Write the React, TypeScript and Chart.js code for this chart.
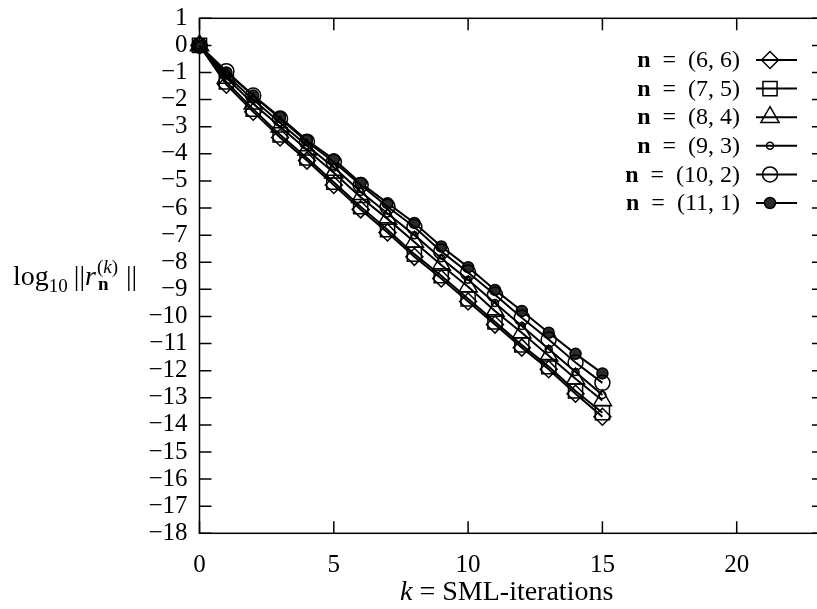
import React, { useEffect, useRef } from 'react';
import { Chart, registerables } from 'chart.js';
import { drawPoint } from 'chart.js/helpers';

Chart.register(...registerables);

// ---- data ----
const iterations = [0, 1, 2, 3, 4, 5, 6, 7, 8, 9, 10, 11, 12, 13, 14, 15];
const seriesLabels = ['n = (6, 6)', 'n = (7, 5)', 'n = (8, 4)', 'n = (9, 3)', 'n = (10, 2)', 'n = (11, 1)'];
const r66 = [0, -1.45, -2.45, -3.4, -4.25, -5.15, -6.05, -6.9, -7.8, -8.6, -9.45, -10.3, -11.15, -11.95, -12.85, -13.7];
const r75 = [0, -1.35, -2.35, -3.3, -4.15, -5.05, -5.95, -6.8, -7.7, -8.5, -9.35, -10.2, -11.05, -11.85, -12.75, -13.55];
const r84 = [0, -1.2, -2.15, -3.0, -3.85, -4.7, -5.6, -6.4, -7.25, -8.1, -8.9, -9.8, -10.6, -11.45, -12.3, -13.1];
const r93 = [0, -1.1, -2.0, -2.85, -3.7, -4.5, -5.4, -6.2, -7.0, -7.85, -8.65, -9.5, -10.35, -11.2, -12.05, -12.9];
const r102 = [0, -0.95, -1.85, -2.7, -3.55, -4.3, -5.15, -5.95, -6.7, -7.6, -8.38, -9.2, -10.05, -10.85, -11.7, -12.45];
const r111 = [0, -1.0, -1.85, -2.65, -3.5, -4.2, -5.08, -5.82, -6.55, -7.42, -8.18, -9.02, -9.8, -10.6, -11.38, -12.1];
const xTickStep = 5;
const xMin = 0;
const xMax = 23.25;
const yTickStep = 1;
const yMin = -18;
const yMax = 1;

const SERIF = '"Liberation Serif", "DejaVu Serif", serif';

const styles = [
  { pointStyle: 'rectRot', radius: 8.5, fill: 'rgba(0,0,0,0)' },
  { pointStyle: 'rect', radius: 10, fill: 'rgba(0,0,0,0)' },
  { pointStyle: 'triangle', radius: 10.5, fill: 'rgba(0,0,0,0)' },
  { pointStyle: 'circle', radius: 3.5, fill: 'rgba(0,0,0,0)' },
  { pointStyle: 'circle', radius: 7.5, fill: 'rgba(0,0,0,0)' },
  { pointStyle: 'circle', radius: 5.5, fill: '#2a2a2a' },
];

const frameTicks = {
  id: 'frameTicks',
  beforeDatasetsDraw(chart: any) {
    const { ctx, chartArea: a, scales } = chart;
    ctx.save();
    ctx.strokeStyle = '#000';
    ctx.lineWidth = 1.5;
    ctx.strokeRect(a.left, a.top, a.right - a.left, a.bottom - a.top);
    const T = 12;
    ctx.beginPath();
    scales.x.ticks.forEach((t: any) => {
      const px = scales.x.getPixelForValue(t.value);
      ctx.moveTo(px, a.bottom);
      ctx.lineTo(px, a.bottom - T);
      ctx.moveTo(px, a.top);
      ctx.lineTo(px, a.top + T);
    });
    scales.y.ticks.forEach((t: any) => {
      const py = scales.y.getPixelForValue(t.value);
      ctx.moveTo(a.left, py);
      ctx.lineTo(a.left + T, py);
      ctx.moveTo(a.right, py);
      ctx.lineTo(a.right - T, py);
    });
    ctx.stroke();
    ctx.restore();
  },
  afterDatasetsDraw(chart: any) {
    const { ctx, chartArea: a } = chart;
    ctx.save();
    chart.data.datasets.forEach((ds: any, i: number) => {
      const y = a.top + 41.7 + i * 28.6;
      const textRight = a.left + 540.5;
      const rest = ds.label.slice(1).replace(' = ', '\u2002=\u2002');
      ctx.fillStyle = '#000';
      ctx.textAlign = 'right';
      ctx.textBaseline = 'middle';
      ctx.font = `24px ${SERIF}`;
      const wRest = ctx.measureText(rest).width;
      ctx.fillText(rest, textRight, y + 1);
      ctx.font = `bold 24px ${SERIF}`;
      ctx.fillText(ds.label[0], textRight - wRest, y + 1);
      ctx.strokeStyle = '#000';
      ctx.lineWidth = 2;
      ctx.beginPath();
      ctx.moveTo(a.left + 556.5, y);
      ctx.lineTo(a.left + 597.5, y);
      ctx.stroke();
      ctx.fillStyle = ds.pointBackgroundColor;
      ctx.lineWidth = 1.5;
      drawPoint(ctx, { pointStyle: ds.pointStyle, rotation: 0, radius: ds.pointRadius, borderWidth: 1.5 } as any, a.left + 570.5, y);
    });
    ctx.restore();
  },
};

export default function App() {
  const ref = useRef<HTMLCanvasElement>(null);
  useEffect(() => {
    if (!ref.current) return;
    const all = [r66, r75, r84, r93, r102, r111];
    const chart = new Chart(ref.current, {
      type: 'line',
      data: {
        datasets: all.map((vals, i) => ({
          label: seriesLabels[i],
          data: iterations.map((k, j) => ({ x: k, y: vals[j] })),
          borderColor: '#000',
          borderWidth: 2,
          pointStyle: styles[i].pointStyle as any,
          pointRadius: styles[i].radius,
          pointBorderWidth: 1.5,
          pointBorderColor: '#000',
          pointBackgroundColor: styles[i].fill,
          tension: 0,
          clip: false as any,
        })),
      },
      options: {
        animation: false,
        responsive: false,
        events: [],
        layout: { padding: { top: 18.3, right: 0, left: 0, bottom: 0 } },
        plugins: { legend: { display: false }, tooltip: { enabled: false } },
        scales: {
          x: {
            type: 'linear',
            min: xMin,
            max: xMax,
            grid: { display: false, drawTicks: false },
            border: { display: false },
            ticks: {
              stepSize: xTickStep,
              includeBounds: false,
              autoSkip: false,
              color: '#000',
              padding: 17,
              maxRotation: 0,
              font: { family: SERIF, size: 25 },
            },
            afterFit: (s: any) => { s.height = 75.7; },
          },
          y: {
            type: 'linear',
            min: yMin,
            max: yMax,
            grid: { display: false, drawTicks: false },
            border: { display: false },
            ticks: {
              stepSize: yTickStep,
              autoSkip: false,
              color: '#000',
              padding: 12,
              font: { family: SERIF, size: 25 },
              callback: (v: any) => (v < 0 ? '\u2212' + Math.abs(v) : String(v)),
            },
            afterFit: (s: any) => { s.width = 199.5; s.paddingTop = 0; s.paddingBottom = 0; },
          },
        },
      },
      plugins: [frameTicks],
    });
    return () => chart.destroy();
  }, []);

  const sub = { position: 'relative' as const, fontSize: 19 };
  return (
    <div style={{ position: 'absolute', left: 0, top: 0, width: 817, height: 609, overflow: 'hidden', background: '#fff', color: '#000' }}>
      <canvas ref={ref} width={836} height={609} style={{ position: 'absolute', left: 0, top: 0 }} />
      <div style={{ position: 'absolute', left: 13, top: 261.6, font: `28px ${SERIF}`, lineHeight: '28px', whiteSpace: 'nowrap' }}>
        log<span style={{ ...sub, top: 7 }}>10</span>
        <span style={{ marginLeft: 6 }}>||</span>
        <i>r</i>
        <span style={{ display: 'inline-block', position: 'relative', width: 27, height: 0 }}>
          <span style={{ position: 'absolute', left: 1, top: -28, fontSize: 19, lineHeight: '19px' }}>(<i>k</i>)</span>
          <b style={{ position: 'absolute', left: 2, top: -11, fontSize: 19, lineHeight: '19px' }}>n</b>
        </span>
        <span style={{ marginLeft: 3 }}>||</span>
      </div>
      <div style={{ position: 'absolute', left: 400, top: 576.6, font: `28px ${SERIF}`, lineHeight: '28px', whiteSpace: 'nowrap' }}>
        <i>k</i> = SML-iterations
      </div>
    </div>
  );
}
